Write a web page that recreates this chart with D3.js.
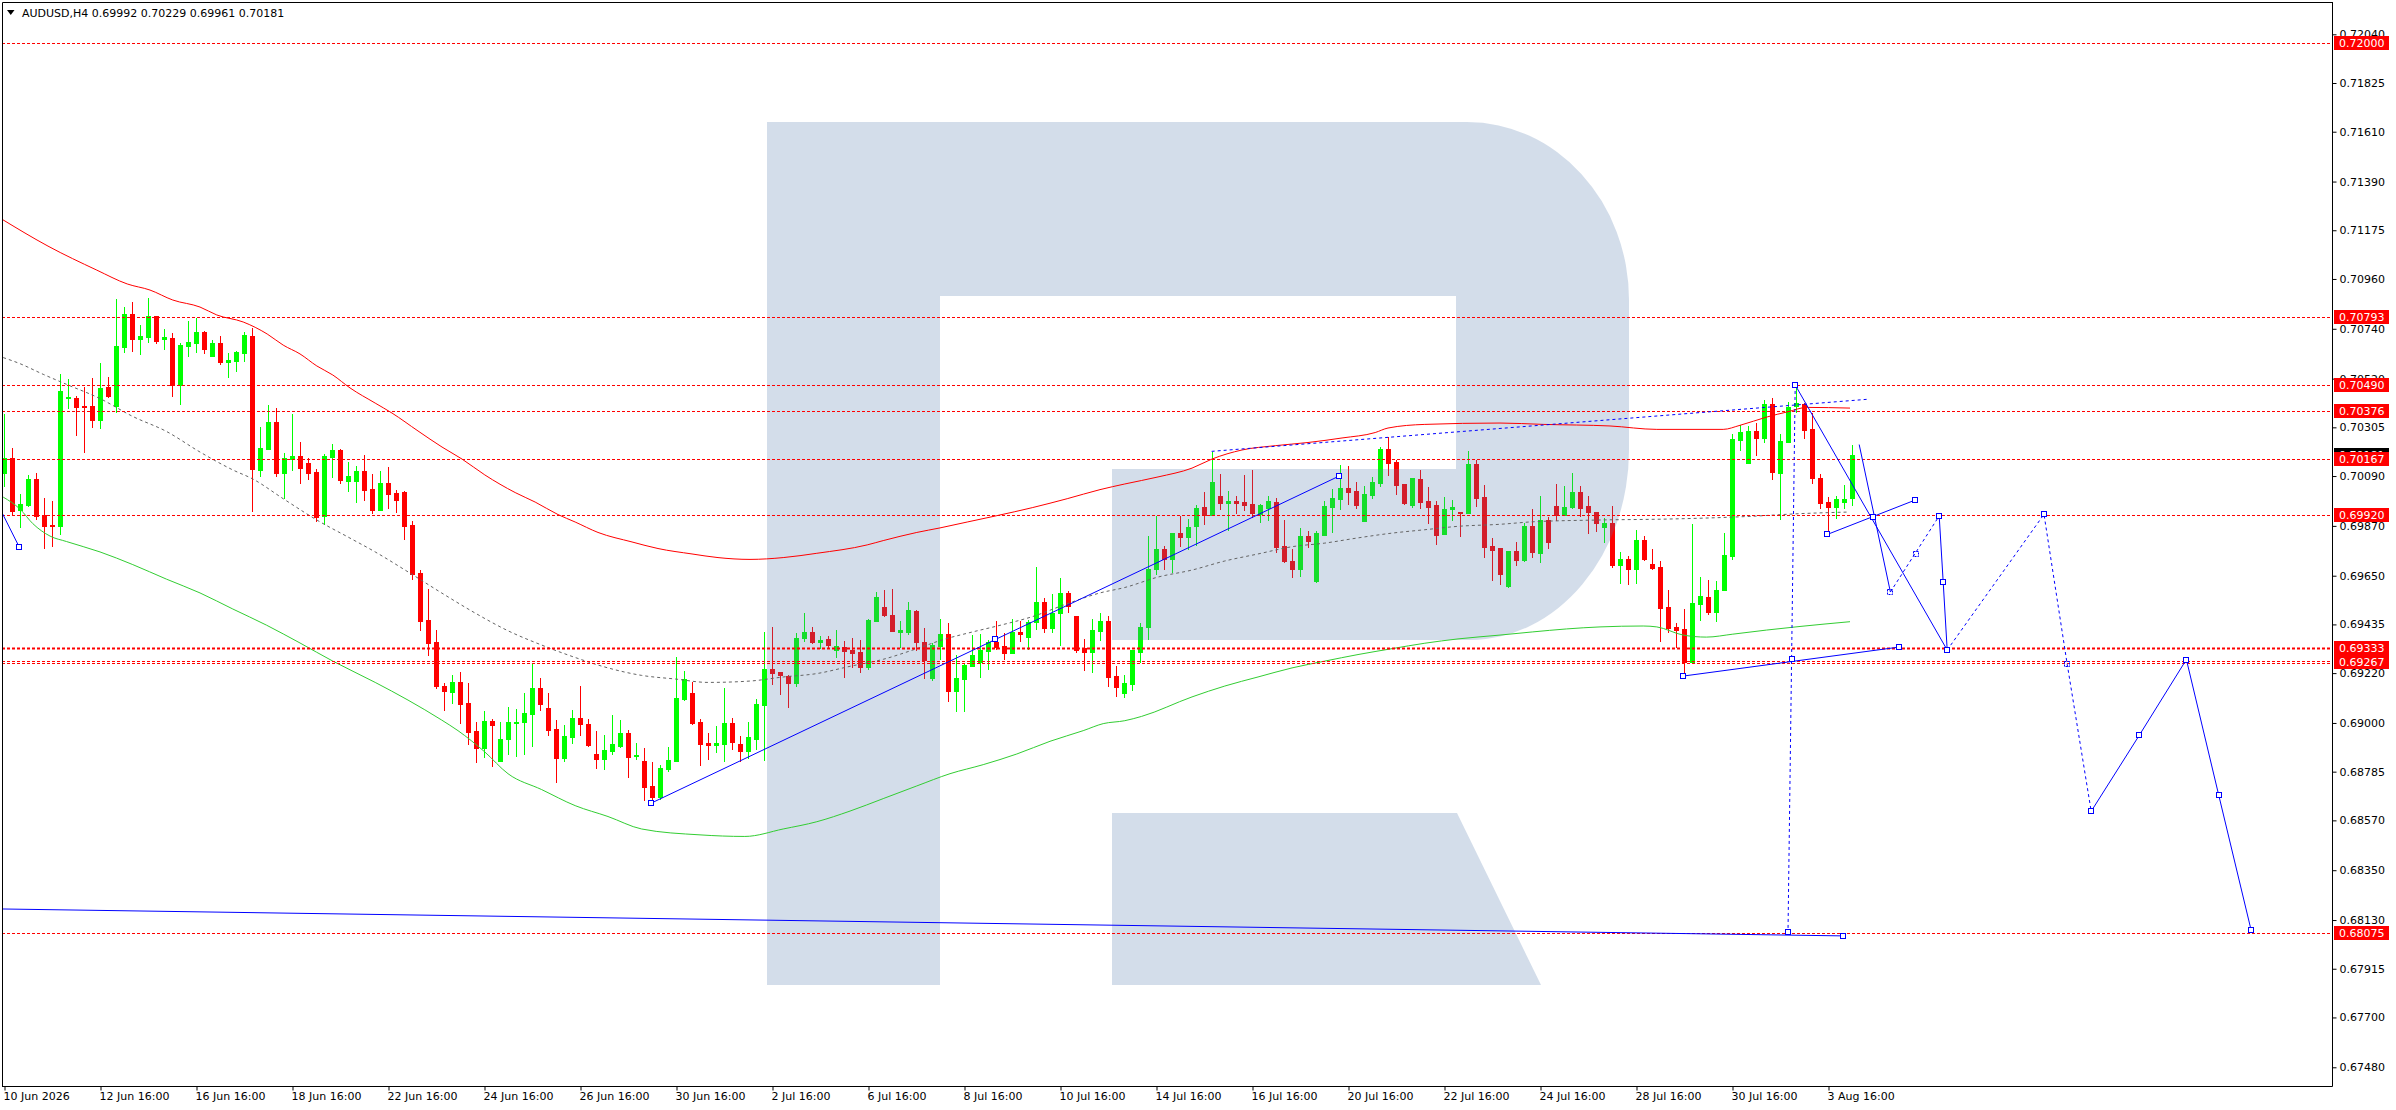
<!DOCTYPE html>
<html><head><meta charset="utf-8">
<script src="https://cdn.jsdelivr.net/npm/d3@7"></script>
<style>
html,body{margin:0;padding:0;background:#fff;}
svg{display:block;}
text{font-family:"DejaVu Sans",sans-serif;font-size:11px;fill:#000;}
</style></head><body>
<svg id="chart" width="2396" height="1110"></svg>
<script>
// ---------------- DATA ----------------
const symbolTitle = "AUDUSD,H4  0.69992 0.70229 0.69961 0.70181";
const opens = [0.70105,0.70168,0.69941,0.69963,0.70077,0.69917,0.69873,0.69869,0.70433,0.70436,0.70398,0.70398,0.70337,0.70485,0.70398,0.70660,0.70805,0.70696,0.70704,0.70796,0.70696,0.70699,0.70491,0.70665,0.70679,0.70725,0.70619,0.70677,0.70594,0.70597,0.70635,0.70707,0.70116,0.70209,0.70327,0.70105,0.70167,0.70178,0.70148,0.70107,0.69914,0.70174,0.70204,0.70067,0.70067,0.70111,0.70033,0.69941,0.70059,0.70015,0.70018,0.69873,0.69662,0.69454,0.69356,0.69164,0.69137,0.69180,0.69088,0.68964,0.68891,0.69008,0.68833,0.68931,0.69001,0.69005,0.69039,0.69154,0.69066,0.68973,0.68847,0.68938,0.69022,0.68995,0.68863,0.68842,0.68877,0.68897,0.68957,0.68853,0.68831,0.68721,0.68674,0.68797,0.68833,0.69106,0.69131,0.69003,0.68912,0.68904,0.68907,0.68998,0.68905,0.68875,0.68931,0.69080,0.69238,0.69224,0.69206,0.69178,0.69374,0.69400,0.69358,0.69370,0.69320,0.69336,0.69323,0.69312,0.69247,0.69451,0.69511,0.69476,0.69403,0.69402,0.69493,0.69359,0.69200,0.69340,0.69391,0.69139,0.69195,0.69252,0.69269,0.69318,0.69359,0.69339,0.69310,0.69400,0.69378,0.69446,0.69533,0.69418,0.69485,0.69574,0.69471,0.69333,0.69315,0.69407,0.69449,0.69206,0.69134,0.69173,0.69315,0.69422,0.69681,0.69766,0.69725,0.69837,0.69821,0.69869,0.69954,0.69916,0.70004,0.69971,0.69979,0.69974,0.69966,0.69921,0.69951,0.69974,0.69780,0.69714,0.69681,0.69824,0.69627,0.69829,0.69955,0.69990,0.70037,0.70023,0.69892,0.70006,0.70059,0.70211,0.70151,0.70053,0.69963,0.70077,0.69979,0.69962,0.69835,0.69943,0.69933,0.69927,0.70143,0.69996,0.69780,0.69772,0.69604,0.69758,0.69719,0.69870,0.69750,0.69895,0.69957,0.69916,0.69954,0.70018,0.69957,0.69933,0.69864,0.69883,0.69697,0.69722,0.69681,0.69807,0.69701,0.69687,0.69512,0.69422,0.69415,0.69269,0.69525,0.69556,0.69489,0.69585,0.69738,0.70250,0.70149,0.70288,0.70258,0.70408,0.70105,0.70241,0.70400,0.70408,0.70297,0.70081,0.69974,0.69955,0.69976,0.69992];
const highs = [0.70364,0.70215,0.70010,0.70094,0.70105,0.69995,0.69979,0.70540,0.70518,0.70444,0.70482,0.70523,0.70588,0.70526,0.70871,0.70835,0.70860,0.70756,0.70876,0.70796,0.70739,0.70722,0.70679,0.70774,0.70789,0.70729,0.70690,0.70710,0.70635,0.70644,0.70726,0.70742,0.70305,0.70403,0.70390,0.70190,0.70364,0.70239,0.70168,0.70121,0.70187,0.70231,0.70211,0.70151,0.70133,0.70182,0.70100,0.70111,0.70129,0.70028,0.70023,0.69891,0.69675,0.69591,0.69410,0.69176,0.69211,0.69224,0.69176,0.69003,0.69052,0.69017,0.69003,0.69069,0.69060,0.69132,0.69265,0.69197,0.69132,0.69012,0.68990,0.69057,0.69162,0.69016,0.68964,0.68946,0.69035,0.69012,0.68968,0.68912,0.68890,0.68826,0.68815,0.68893,0.69292,0.69228,0.69183,0.69016,0.68956,0.68986,0.69154,0.69022,0.68942,0.69003,0.69107,0.69400,0.69422,0.69224,0.69213,0.69396,0.69485,0.69422,0.69383,0.69383,0.69410,0.69362,0.69375,0.69366,0.69459,0.69577,0.69586,0.69591,0.69449,0.69536,0.69498,0.69419,0.69351,0.69459,0.69441,0.69301,0.69260,0.69388,0.69392,0.69366,0.69449,0.69396,0.69459,0.69449,0.69454,0.69687,0.69552,0.69569,0.69640,0.69583,0.69471,0.69372,0.69459,0.69485,0.69471,0.69252,0.69213,0.69323,0.69441,0.69824,0.69914,0.69780,0.69840,0.69914,0.69900,0.69962,0.70018,0.70198,0.70099,0.70023,0.70001,0.70096,0.70116,0.69966,0.70003,0.69995,0.69895,0.69769,0.69861,0.69847,0.69848,0.69981,0.70031,0.70138,0.70135,0.70062,0.70045,0.70085,0.70220,0.70261,0.70160,0.70056,0.70081,0.70116,0.70040,0.69979,0.69996,0.69984,0.69933,0.70200,0.70163,0.70050,0.69817,0.69772,0.69758,0.69798,0.69884,0.69943,0.70001,0.69911,0.70053,0.70045,0.70102,0.70045,0.70001,0.69933,0.69903,0.69957,0.69753,0.69735,0.69851,0.69824,0.69766,0.69714,0.69586,0.69441,0.69503,0.69878,0.69643,0.69632,0.69627,0.69839,0.70277,0.70316,0.70312,0.70324,0.70425,0.70436,0.70277,0.70416,0.70498,0.70413,0.70368,0.70097,0.69996,0.70001,0.70050,0.70229];
const lows = [0.70045,0.69922,0.69864,0.69958,0.69899,0.69774,0.69780,0.69835,0.70392,0.70271,0.70197,0.70305,0.70304,0.70439,0.70373,0.70636,0.70641,0.70630,0.70681,0.70679,0.70651,0.70442,0.70408,0.70619,0.70636,0.70633,0.70619,0.70584,0.70526,0.70553,0.70597,0.69935,0.70089,0.70209,0.70089,0.69995,0.70116,0.70059,0.70077,0.69891,0.69880,0.70085,0.70058,0.70023,0.69974,0.69985,0.69927,0.69941,0.69951,0.69932,0.69813,0.69637,0.69411,0.69301,0.69154,0.69058,0.69088,0.69000,0.68908,0.68826,0.68849,0.68809,0.68833,0.68863,0.68853,0.68863,0.68897,0.69058,0.68946,0.68740,0.68833,0.68913,0.68948,0.68897,0.68803,0.68798,0.68864,0.68894,0.68762,0.68839,0.68661,0.68656,0.68666,0.68789,0.68833,0.69102,0.68995,0.68815,0.68842,0.68872,0.68833,0.68886,0.68833,0.68845,0.68886,0.68837,0.69170,0.69128,0.69072,0.69164,0.69362,0.69355,0.69333,0.69333,0.69292,0.69203,0.69247,0.69227,0.69238,0.69451,0.69470,0.69407,0.69334,0.69394,0.69323,0.69200,0.69191,0.69281,0.69098,0.69055,0.69055,0.69252,0.69203,0.69236,0.69325,0.69284,0.69310,0.69362,0.69325,0.69416,0.69402,0.69402,0.69344,0.69489,0.69312,0.69232,0.69225,0.69366,0.69162,0.69121,0.69113,0.69147,0.69269,0.69372,0.69659,0.69681,0.69665,0.69780,0.69769,0.69785,0.69880,0.69916,0.69946,0.69851,0.69927,0.69938,0.69910,0.69888,0.69895,0.69753,0.69709,0.69643,0.69648,0.69777,0.69623,0.69829,0.69842,0.69946,0.69966,0.69951,0.69892,0.69993,0.70047,0.70096,0.70010,0.69966,0.69954,0.69951,0.69883,0.69790,0.69835,0.69895,0.69824,0.69927,0.69958,0.69733,0.69632,0.69612,0.69601,0.69697,0.69714,0.69733,0.69711,0.69772,0.69895,0.69916,0.69951,0.69914,0.69840,0.69848,0.69801,0.69690,0.69616,0.69615,0.69619,0.69720,0.69678,0.69362,0.69400,0.69336,0.69217,0.69269,0.69454,0.69481,0.69449,0.69585,0.69722,0.70206,0.70146,0.70182,0.70242,0.70077,0.69900,0.70241,0.70372,0.70260,0.70059,0.69951,0.69832,0.69905,0.69951,0.69961];
const closes = [0.70168,0.69935,0.69965,0.70077,0.69914,0.69869,0.69869,0.70465,0.70439,0.70395,0.70395,0.70337,0.70479,0.70442,0.70663,0.70805,0.70696,0.70707,0.70796,0.70687,0.70704,0.70491,0.70668,0.70680,0.70725,0.70651,0.70677,0.70592,0.70602,0.70636,0.70712,0.70121,0.70214,0.70327,0.70103,0.70170,0.70178,0.70127,0.70105,0.69908,0.70178,0.70204,0.70074,0.70089,0.70111,0.70029,0.69941,0.70059,0.70010,0.69985,0.69870,0.69659,0.69451,0.69355,0.69161,0.69140,0.69180,0.69085,0.68959,0.68891,0.69008,0.68992,0.68931,0.69003,0.69005,0.69042,0.69154,0.69085,0.68970,0.68847,0.68942,0.69022,0.68997,0.68902,0.68842,0.68880,0.68907,0.68954,0.68850,0.68858,0.68718,0.68674,0.68803,0.68836,0.69110,0.69192,0.69000,0.68907,0.68904,0.68912,0.68998,0.68915,0.68875,0.68938,0.69083,0.69238,0.69222,0.69213,0.69178,0.69375,0.69400,0.69359,0.69366,0.69345,0.69339,0.69318,0.69310,0.69247,0.69454,0.69555,0.69476,0.69407,0.69410,0.69498,0.69358,0.69279,0.69344,0.69391,0.69139,0.69199,0.69255,0.69299,0.69322,0.69359,0.69334,0.69310,0.69400,0.69394,0.69444,0.69533,0.69418,0.69485,0.69574,0.69515,0.69323,0.69312,0.69410,0.69449,0.69205,0.69158,0.69178,0.69323,0.69422,0.69681,0.69766,0.69725,0.69837,0.69821,0.69867,0.69949,0.69916,0.70062,0.69973,0.69979,0.69971,0.69963,0.69925,0.69963,0.69979,0.69777,0.69714,0.69681,0.69824,0.69804,0.69837,0.69958,0.69993,0.70037,0.70020,0.69962,0.70010,0.70062,0.70211,0.70148,0.70050,0.69971,0.70081,0.69974,0.69955,0.69829,0.69946,0.69952,0.69928,0.70143,0.69995,0.69777,0.69765,0.69659,0.69758,0.69719,0.69870,0.69753,0.69895,0.69798,0.69916,0.69954,0.70018,0.69951,0.69930,0.69884,0.69883,0.69697,0.69722,0.69681,0.69807,0.69725,0.69686,0.69509,0.69421,0.69410,0.69269,0.69530,0.69560,0.69489,0.69585,0.69741,0.70253,0.70283,0.70288,0.70258,0.70408,0.70107,0.70244,0.70395,0.70413,0.70294,0.70083,0.69973,0.69955,0.69988,0.69988,0.70181];

const dateTickBars = [0,12,24,36,48,60,72,84,96,108,120,132,144,156,168,180,192,204,216,228];
const dateTickLabels = ["10 Jun 2026","12 Jun 16:00","16 Jun 16:00","18 Jun 16:00","22 Jun 16:00","24 Jun 16:00","26 Jun 16:00","30 Jun 16:00","2 Jul 16:00","6 Jul 16:00","8 Jul 16:00","10 Jul 16:00","14 Jul 16:00","16 Jul 16:00","20 Jul 16:00","22 Jul 16:00","24 Jul 16:00","28 Jul 16:00","30 Jul 16:00","3 Aug 16:00"];
const priceTicks = [0.72040,0.71825,0.71610,0.71390,0.71175,0.70960,0.70740,0.70520,0.70305,0.70090,0.69870,0.69650,0.69435,0.69220,0.69000,0.68785,0.68570,0.68350,0.68130,0.67915,0.67700,0.67480];
const levelPrices = [0.72000,0.70793,0.70490,0.70376,0.70167,0.69920,0.69333,0.69267,0.68075];
const lastPrice = 0.70181;

// moving averages as [bar, price]
const maRed = [[-0.5,0.71229],[5.5,0.71105],[11.6,0.70999],[15.4,0.70938],[18.25,0.70911],[21.1,0.70867],[24.5,0.70836],[26.6,0.70801],[29.9,0.70770],[32.9,0.70717],[34.9,0.70668],[37,0.70629],[39.1,0.70576],[41.1,0.70536],[43.25,0.70479],[46.4,0.70412],[48.5,0.70368],[51.75,0.70289],[54.75,0.70218],[57.25,0.70165],[60.1,0.70095],[63.9,0.70017],[66.4,0.69975],[69.25,0.69920],[71.4,0.69887],[74.25,0.69841],[78.5,0.69799],[81.75,0.69770],[86,0.69746],[89.25,0.69730],[93.25,0.69722],[97.4,0.69730],[101.6,0.69749],[107.9,0.69786],[109.9,0.69805],[114.1,0.69841],[117,0.69861],[120.4,0.69887],[124.1,0.69915],[128.6,0.69951],[132.9,0.69990],[137,0.70030],[140.1,0.70055],[144.25,0.70086],[148.5,0.70125],[151,0.70165],[154.75,0.70205],[158.9,0.70224],[163,0.70238],[167.25,0.70258],[171.4,0.70282],[173,0.70302],[177.6,0.70318],[187,0.70324],[192.4,0.70318],[200.75,0.70311],[206.6,0.70296],[214.9,0.70296],[217,0.70314],[220.4,0.70351],[222.9,0.70373],[225.4,0.70393],[230.75,0.70390]];
const maGreen = [[-0.1,0.69997],[2,0.69944],[3.6,0.69880],[5.75,0.69825],[7.8,0.69801],[12,0.69755],[16.1,0.69699],[20.3,0.69635],[24.5,0.69574],[28.6,0.69503],[32.8,0.69432],[37,0.69353],[41.1,0.69273],[46.4,0.69179],[50.5,0.69101],[54.7,0.69013],[56.75,0.68966],[60.1,0.68872],[63,0.68776],[67.2,0.68706],[71.4,0.68635],[75.5,0.68587],[79.7,0.68532],[87,0.68506],[92.6,0.68499],[97.4,0.68532],[101.6,0.68564],[105.75,0.68611],[109.9,0.68666],[114.1,0.68722],[118.25,0.68776],[122.4,0.68816],[126.6,0.68863],[130.75,0.68919],[134.9,0.68966],[137.4,0.68997],[140.1,0.69010],[142.2,0.69029],[148.5,0.69115],[152.6,0.69163],[156.75,0.69203],[161,0.69243],[165.1,0.69273],[169.25,0.69302],[173.5,0.69328],[177.6,0.69352],[181.75,0.69371],[187,0.69388],[191.1,0.69402],[195.3,0.69415],[199.5,0.69424],[204.9,0.69428],[206.6,0.69424],[209.9,0.69388],[212.8,0.69379],[216.1,0.69392],[220.3,0.69410],[224.5,0.69426],[230.75,0.69447]];
const maGray = [[-0.1,0.70613],[2,0.70586],[4.9,0.70539],[7.8,0.70495],[12,0.70432],[16.1,0.70353],[20.3,0.70287],[24.5,0.70196],[28.6,0.70117],[31.1,0.70077],[34.9,0.69990],[39.1,0.69896],[43.25,0.69816],[46.4,0.69755],[50.5,0.69667],[54.7,0.69574],[58.9,0.69485],[63,0.69407],[67.2,0.69344],[71.4,0.69289],[75.5,0.69243],[79.7,0.69210],[83.9,0.69194],[88,0.69179],[93.25,0.69185],[97.4,0.69203],[101.6,0.69218],[105.75,0.69250],[109.9,0.69281],[114.1,0.69328],[117.4,0.69368],[120.75,0.69399],[124.5,0.69431],[128.6,0.69470],[132.8,0.69525],[137,0.69574],[140.1,0.69598],[144.25,0.69644],[148.5,0.69675],[152.6,0.69715],[156.75,0.69746],[161,0.69778],[165.1,0.69794],[169.25,0.69817],[173.5,0.69838],[177.6,0.69853],[181.75,0.69868],[187,0.69877],[191.1,0.69888],[199.5,0.69896],[207.8,0.69900],[218.25,0.69912],[224.5,0.69924],[230.5,0.69931]];

// drawn analysis objects as [bar, price]
const objLeftSeg = [[-0.6,0.69953],[1.9,0.69777]];
const objBottomLine = [[-0.5,0.68179],[229.9,0.68060]];
const objTrendUp = [[80.9,0.68646],[166.9,0.70090]];
const objUpperDotted = [[150.96,0.70199],[233.0,0.70429]];
const objVertDotted = [[223.9,0.70492],[223.0,0.68077]];
const objLowerLine = [[209.9,0.69207],[236.9,0.69335]];
const objPeakLine = [[223.9,0.70492],[242.9,0.69322]];
const objPullLine = [[227.9,0.69832],[238.9,0.69984]];
const fcSolid1 = [[231.9,0.70229],[235.8,0.69578]];
const fcDot1 = [[235.8,0.69578],[241.9,0.69914]];
const fcSolid2 = [[241.9,0.69914],[242.4,0.69622],[242.9,0.69322]];
const fcDot2 = [[242.9,0.69322],[255.0,0.69921],[257.9,0.69259],[260.9,0.68610]];
const fcSolid3 = [[260.9,0.68610],[266.9,0.68945],[272.8,0.69280],[276.85,0.68680],[280.9,0.68084]];
const handlePoints = [[1.9,0.69777],[229.9,0.68060],[80.9,0.68646],[123.9,0.69369],[166.9,0.70090],[223.9,0.70492],[223.45,0.69284],[223.0,0.68077],[209.9,0.69207],[236.9,0.69335],[227.9,0.69832],[233.6,0.69911],[238.9,0.69984],[241.9,0.69914],[242.4,0.69622],[242.9,0.69322],[255.0,0.69921],[260.9,0.68610],[266.9,0.68945],[272.8,0.69280],[276.85,0.68680],[280.9,0.68084]];
const smallMarks = [[235.8,0.69578],[239.05,0.69746],[257.9,0.69259]];

// ---------------- LAYOUT ----------------
const W = 2396, H = 1110;
const plotL = 2, plotT = 2, plotR = 2332, plotB = 1086;
const svg = d3.select("#chart");
svg.append("rect").attr("width",W).attr("height",H).attr("fill","#fff");

const x = d3.scaleLinear().domain([-0.5, 291]).range([0, plotR]);
const y = d3.scaleLinear().domain([0.673974, 0.721826]).range([plotB, plotT]);

svg.append("defs").append("clipPath").attr("id","plotClip")
  .append("rect").attr("x",plotL).attr("y",plotT).attr("width",plotR-plotL).attr("height",plotB-plotT);
const plot = svg.append("g").attr("clip-path","url(#plotClip)");

// candles
const bars = d3.range(opens.length);
const candleG = plot.append("g");
bars.forEach(i => {
  const up = closes[i] >= opens[i];
  const col = up ? "#00ff00" : "#ff0000";
  const cx = Math.round(x(i));
  candleG.append("line").attr("x1",cx+0.5).attr("x2",cx+0.5)
    .attr("y1",Math.round(y(highs[i]))).attr("y2",Math.round(y(lows[i]))+1)
    .attr("stroke",col).attr("stroke-width",1);
  const top = Math.round(y(Math.max(opens[i],closes[i])));
  const bot = Math.round(y(Math.min(opens[i],closes[i])));
  candleG.append("rect").attr("x",cx-2).attr("y",top)
    .attr("width",5).attr("height",Math.max(1,bot-top+1)).attr("fill",col);
});

// watermark logo overlay
const logo = "M767,122 L1467,122 A162,178 0 0 1 1629,300 L1629,450 A159,190 0 0 1 1470,640 L1112,640 L1112,469 L1456,469 L1456,296 L940,296 L940,985 L767,985 Z M1112,813 L1457,813 L1541,985 L1112,985 Z";
plot.append("path").attr("d",logo).attr("fill","rgba(80,120,170,0.25)");

// moving averages
const line = d3.line().x(d=>x(d[0])).y(d=>y(d[1])).curve(d3.curveMonotoneX);
plot.append("path").datum(maGray).attr("d",line).attr("fill","none").attr("stroke","#646464").attr("stroke-width",1).attr("stroke-dasharray","3,3");
plot.append("path").datum(maRed).attr("d",line).attr("fill","none").attr("stroke","#ff0000").attr("stroke-width",1);
plot.append("path").datum(maGreen).attr("d",line).attr("fill","none").attr("stroke","#32cd32").attr("stroke-width",1);

// horizontal levels
levelPrices.forEach((p,k) => {
  const yy = Math.round(y(p)) + 0.5;
  if (Math.abs(p-0.69267) < 1e-6) {
    [-1,1].forEach(o => plot.append("line").attr("x1",plotL).attr("x2",plotR).attr("y1",yy+o).attr("y2",yy+o)
      .attr("stroke","#ff0000").attr("stroke-width",1).attr("stroke-dasharray","3,2"));
  } else {
    plot.append("line").attr("x1",plotL).attr("x2",plotR).attr("y1",yy).attr("y2",yy)
      .attr("stroke","#ff0000").attr("stroke-width", Math.abs(p-0.69333)<1e-6 ? 2 : 1).attr("stroke-dasharray","3,2");
  }
});

// blue analysis objects
const sl = d3.line().x(d=>x(d[0])).y(d=>y(d[1]));
const blue = "#0000ff";
function drawObj(data, dashed, w){
  plot.append("path").datum(data).attr("d",sl).attr("fill","none").attr("stroke",blue)
    .attr("stroke-width",w||1).attr("stroke-dasharray",dashed?"3,3":null);
}
drawObj(objBottomLine,false);
drawObj(objLeftSeg,false);
drawObj(objTrendUp,false);
drawObj(objUpperDotted,true);
drawObj(objVertDotted,true);
drawObj(objLowerLine,false);
drawObj(objPeakLine,false);
drawObj(objPullLine,false);
drawObj(fcSolid1,false);
drawObj(fcDot1,true);
drawObj(fcSolid2,false);
drawObj(fcDot2,true);
drawObj(fcSolid3,false);
plot.selectAll("rect.h").data(handlePoints).enter().append("rect").attr("class","h")
  .attr("x",d=>Math.round(x(d[0]))-2.5).attr("y",d=>Math.round(y(d[1]))-2.5)
  .attr("width",5).attr("height",5).attr("fill","#fff").attr("stroke",blue).attr("stroke-width",1);
plot.selectAll("rect.s").data(smallMarks).enter().append("rect").attr("class","s")
  .attr("x",d=>Math.round(x(d[0]))-2.5).attr("y",d=>Math.round(y(d[1]))-2.5)
  .attr("width",5).attr("height",5).attr("fill","none").attr("stroke",blue).attr("stroke-width",1).attr("stroke-dasharray","2,1");

// frame
svg.append("path").attr("d",`M${plotL+0.5},${plotB}V${plotT+0.5}H${plotR}`).attr("fill","none").attr("stroke","#000");

// right price axis
const yAxis = d3.axisRight(y).tickValues(priceTicks).tickSize(4).tickSizeOuter(0).tickPadding(3).tickFormat(d3.format(".5f"));
const yg = svg.append("g").attr("transform",`translate(${plotR+0.5},0)`).call(yAxis);
yg.select(".domain").attr("d",`M0,${plotT}V${plotB+0.5}`).attr("stroke","#000");
yg.selectAll("text").attr("font-family","DejaVu Sans").attr("font-size",11).attr("fill","#000");

// bottom time axis
const xAxis = d3.axisBottom(x).tickValues(dateTickBars).tickFormat((d,i)=>dateTickLabels[i]).tickSize(4).tickSizeOuter(0).tickPadding(2);
const xg = svg.append("g").attr("transform",`translate(0,${plotB+0.5})`).call(xAxis);
xg.select(".domain").attr("d",`M${plotL},0H${plotR+0.5}`).attr("stroke","#000");
xg.selectAll(".tick line").attr("transform","translate(0.5,0)");
xg.selectAll("text").attr("text-anchor","start").attr("dx","-1").attr("font-family","DejaVu Sans").attr("font-size",11).attr("fill","#000");

// price level labels
const lab = svg.append("g");
function priceBox(p, fill){
  const yy = Math.round(y(p));
  lab.append("rect").attr("x",plotR+2).attr("y",yy-7).attr("width",55).attr("height",14).attr("fill",fill);
  lab.append("text").attr("x",plotR+7).attr("y",yy).attr("dy","0.36em").style("fill","#fff").text(d3.format(".5f")(p));
}
priceBox(lastPrice, "#000");
levelPrices.forEach(p => priceBox(p, "#ff0000"));

// title
svg.append("path").attr("d","M7,10 L14.5,10 L10.75,15 Z").attr("fill","#000");
svg.append("text").attr("x",22).attr("y",17).text(symbolTitle);
</script>
</body></html>
